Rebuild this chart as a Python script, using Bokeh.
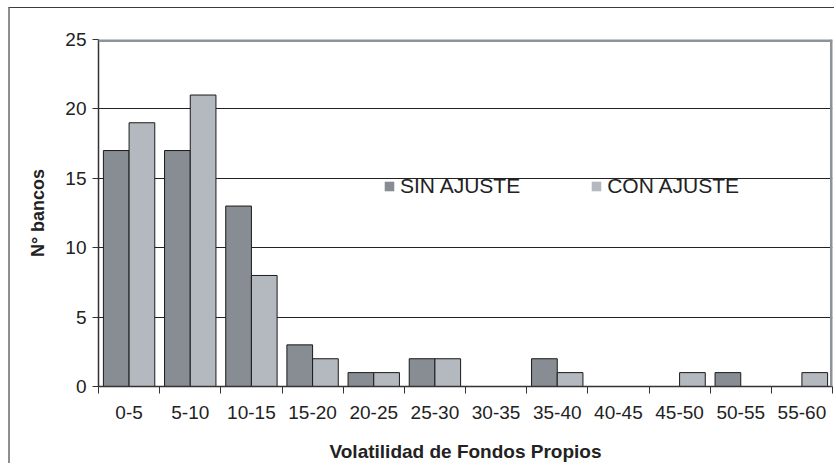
from bokeh.plotting import figure
from bokeh.models import (ColumnDataSource, Range1d, FixedTicker, Span, Legend, LegendItem)
from bokeh.transform import dodge
from bokeh.embed import file_html
from bokeh.resources import INLINE
import numpy as np

categories = ["0-5", "5-10", "10-15", "15-20", "20-25", "25-30", "30-35",
              "35-40", "40-45", "45-50", "50-55", "55-60"]
sin_ajuste = [17, 17, 13, 3, 1, 2, 0, 2, 0, 0, 1, 0]
con_ajuste = [19, 21, 8, 2, 1, 2, 0, 1, 0, 1, 0, 1]
series_names = ["SIN AJUSTE", "CON AJUSTE"]
y_ticks = [0, 5, 10, 15, 20, 25]

DARK = "#878d93"
LIGHT = "#b4b9bf"
FONT = "Liberation Sans"

pos = np.arange(len(categories)) + 0.5
src = ColumnDataSource(dict(pos=pos, cat=categories, sin=sin_ajuste, con=con_ajuste))

p = figure(width=826, height=456, output_backend="svg", toolbar_location=None,
           x_range=Range1d(0, len(categories)), y_range=Range1d(0, 25),
           min_border_left=88, min_border_right=4, min_border_top=31, min_border_bottom=77)
p.styles = {"border-left": "2px solid #8e8e8e", "border-top": "1px solid #3c3c3c",
            "margin-left": "8px", "margin-top": "7px"}
p.outline_line_color = None
p.background_fill_color = "white"

r1 = p.vbar(x=dodge("pos", -0.21, range=p.x_range), top="sin", width=0.42, source=src,
            fill_color=DARK, line_color="#1a1a1a", line_width=1)
r2 = p.vbar(x=dodge("pos", 0.21, range=p.x_range), top="con", width=0.42, source=src,
            fill_color=LIGHT, line_color="#1a1a1a", line_width=1)

# legend proxies (no outline, hidden)
l1 = p.vbar(x=dodge("pos", -0.21, range=p.x_range), top="sin", width=0.42, source=src,
            fill_color=DARK, line_color=None, visible=False)
l2 = p.vbar(x=dodge("pos", 0.21, range=p.x_range), top="con", width=0.42, source=src,
            fill_color=LIGHT, line_color=None, visible=False)

legend = Legend(items=[LegendItem(label=series_names[0], renderers=[l1]),
                       LegendItem(label=series_names[1], renderers=[l2])],
                orientation="horizontal", location=(285, 188),
                glyph_width=12, glyph_height=12, label_standoff=5, spacing=70,
                padding=0, margin=0, border_line_color=None, background_fill_alpha=0,
                inactive_fill_alpha=0,
                label_text_font=FONT, label_text_font_size="21px", label_text_color="#222222")
p.add_layout(legend, "center")

# top and right gray borders
p.add_layout(Span(location=25, dimension="width", line_color="#8c949a", line_width=5))
p.add_layout(Span(location=len(categories), dimension="height", line_color="#8c949a", line_width=5))

# grid
p.xgrid.grid_line_color = None
p.ygrid.ticker = FixedTicker(ticks=y_ticks[1:-1])
p.ygrid.grid_line_color = "#222222"
p.ygrid.grid_line_width = 1

# y axis
p.yaxis.ticker = FixedTicker(ticks=y_ticks)
p.yaxis.axis_line_color = "#333333"
p.yaxis.axis_line_width = 1.5
p.yaxis.major_tick_line_color = "#333333"
p.yaxis.major_tick_out = 6
p.yaxis.major_tick_in = 0
p.yaxis.minor_tick_line_color = None
p.yaxis.major_label_text_font = FONT
p.yaxis.major_label_text_font_size = "19px"
p.yaxis.major_label_text_color = "#222222"
p.yaxis.major_label_standoff = 6
p.yaxis.axis_label = "N° bancos"
p.yaxis.axis_label_text_font = FONT
p.yaxis.axis_label_text_font_style = "bold"
p.yaxis.axis_label_text_font_size = "18px"
p.yaxis.axis_label_text_color = "#222222"
p.yaxis.axis_label_standoff = 14

# x axis: labels at centers, ticks at boundaries
p.xaxis.ticker = FixedTicker(ticks=list(pos), minor_ticks=list(range(len(categories) + 1)))
p.xaxis.major_label_overrides = {float(x): c for x, c in zip(pos, categories)}
p.xaxis.axis_line_color = "#333333"
p.xaxis.axis_line_width = 1.5
p.xaxis.major_tick_line_color = None
p.xaxis.minor_tick_line_color = "#333333"
p.xaxis.minor_tick_out = 7
p.xaxis.minor_tick_in = 0
p.xaxis.major_label_text_font = FONT
p.xaxis.major_label_text_font_size = "19px"
p.xaxis.major_label_text_color = "#222222"
p.xaxis.major_label_standoff = 12
p.xaxis.axis_label = "Volatilidad de Fondos Propios"
p.xaxis.axis_label_text_font = FONT
p.xaxis.axis_label_text_font_style = "bold"
p.xaxis.axis_label_text_font_size = "19px"
p.xaxis.axis_label_text_color = "#222222"
p.xaxis.axis_label_standoff = 19

open("out.html", "w").write(file_html(p, INLINE))
